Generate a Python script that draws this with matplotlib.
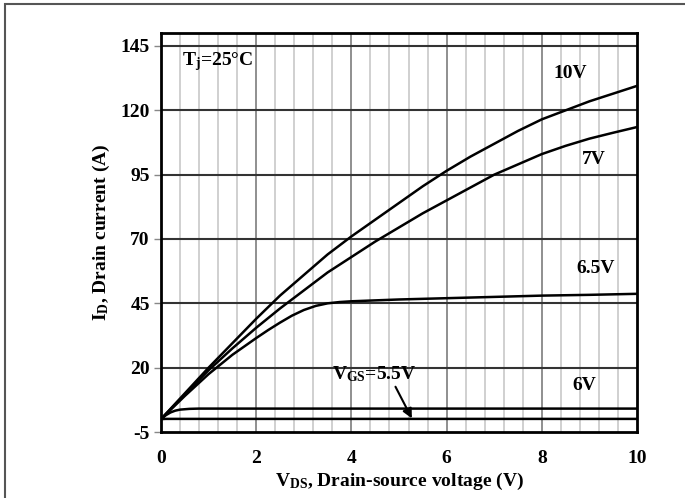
import numpy as np
import matplotlib.pyplot as plt
from matplotlib.patches import Rectangle

plt.rcParams['font.family'] = 'Liberation Serif'
plt.rcParams['font.weight'] = 'bold'
plt.rcParams['mathtext.fontset'] = 'custom'
plt.rcParams['mathtext.rm'] = 'Liberation Serif'
plt.rcParams['mathtext.bf'] = 'Liberation Serif:bold'
plt.rcParams['mathtext.default'] = 'bf'
plt.rcParams['axes.unicode_minus'] = False

# drain-source voltage (V)
vds = [0, 0.25, 0.5, 0.75, 1, 1.5, 2, 2.5, 3, 3.5, 4, 4.5, 5, 5.5, 6, 6.5, 7, 7.5, 8, 8.5, 9, 9.5, 10]
# drain current (A) for each gate voltage
id_10v = [0, 5, 10, 15, 20, 29.5, 39, 48, 56, 64, 71, 77.5, 84, 90.5, 96.5, 102, 107, 112, 116.5, 120, 123.5, 126.5, 129.5]
id_7v = [0, 4.8, 9.5, 14.3, 19, 27.5, 35.5, 43, 50, 57, 63, 69, 74.5, 80, 85, 90, 95, 99, 103, 106.2, 109, 111.3, 113.5]
vds_65 = [0, 0.5, 1, 1.5, 2, 2.25, 2.5, 2.75, 3, 3.25, 3.5, 3.75, 4, 5, 6, 7, 8, 9, 10]
id_65v = [0, 9, 17.5, 25, 31.5, 34.6, 37.5, 40.2, 42.4, 44, 45, 45.5, 45.8, 46.5, 47, 47.5, 48, 48.3, 48.7]
vds_low = [0, 0.1, 0.2, 0.3, 0.4, 0.6, 0.8, 1, 2, 4, 6, 8, 10]
id_6v = [0, 1.5, 2.6, 3.3, 3.7, 4.0, 4.1, 4.1, 4.1, 4.1, 4.1, 4.1, 4.1]
id_55v = [0, 0.1, 0.1, 0.1, 0.1, 0.1, 0.1, 0.1, 0.1, 0.1, 0.1, 0.1, 0.1]

yticks = [-5, 20, 45, 70, 95, 120, 145]
xticks = [0, 2, 4, 6, 8, 10]

fig = plt.figure(figsize=(6.85, 4.98), dpi=100)
ax = fig.add_axes([0.235, 0.1325, 0.695, 0.801])

# outer frame (partly cropped like the datasheet scan)
fig.patches.append(Rectangle((5 / 685, -0.2), 1.2, 1.2 - 4 / 498, transform=fig.transFigure,
                             fill=False, edgecolor='#555555', linewidth=1.5))

# grid
for x in np.arange(0.4, 10, 0.4):
    ax.axvline(x, color='#c8c8c8', linewidth=1.2, zorder=1)
for x in xticks[1:-1]:
    ax.axvline(x, color='#8c8c8c', linewidth=1.3, zorder=1)
for y in yticks[1:]:
    ax.axhline(y, color='#333333', linewidth=1.5, zorder=1)

ax.plot(vds, id_10v, color='black', linewidth=1.8, zorder=3)
ax.plot(vds, id_7v, color='black', linewidth=1.8, zorder=3)
ax.plot(vds_65, id_65v, color='black', linewidth=1.8, zorder=3)
ax.plot(vds_low, id_6v, color='black', linewidth=1.8, zorder=3)
ax.plot(vds_low, id_55v, color='black', linewidth=1.8, zorder=3)

ax.set_xlim(0, 10)
ax.set_ylim(-5, 150)
ax.set_xticks(xticks)
ax.set_yticks(yticks)
ax.tick_params(axis='both', labelsize=14, direction='out', width=1, color='#888888')
ax.tick_params(axis='x', length=0, pad=13)
ax.tick_params(axis='y', length=5, pad=3)
for lab in ax.get_xticklabels() + ax.get_yticklabels():
    lab.set_fontweight('bold')
for s in ax.spines.values():
    s.set_linewidth(2)
    s.set_color('black')
    s.set_zorder(4)

ax.set_xlabel(r'V$_{\rm DS}$, Drain-source voltage (V)', fontsize=14, fontweight='bold', labelpad=3)
ax.set_ylabel(r'I$_{\rm D}$, Drain current (A)', fontsize=14, fontweight='bold', labelpad=6)

ax.text(0.45, 138.8, r'T$_{\rm j}$=25°C', fontsize=14, fontweight='bold', va='center', zorder=5)
ax.text(8.25, 134.5, '10V', fontsize=14, fontweight='bold', va='center', zorder=5)
ax.text(8.85, 100.7, '7V', fontsize=14, fontweight='bold', va='center', zorder=5)
ax.text(8.72, 58.7, '6.5V', fontsize=14, fontweight='bold', va='center', zorder=5)
ax.text(8.64, 12.9, '6V', fontsize=14, fontweight='bold', va='center', zorder=5)
ax.annotate(r'V$_{\rm GS}$=5.5V', xy=(5.27, 0.3), xytext=(3.6, 17.5), fontsize=14,
            fontweight='bold', va='center', zorder=5,
            arrowprops=dict(arrowstyle='-|>', color='black', linewidth=1.5,
                            shrinkA=0, shrinkB=0, relpos=(0.72, 0.1)))

fig.savefig('out.png', dpi=100)
